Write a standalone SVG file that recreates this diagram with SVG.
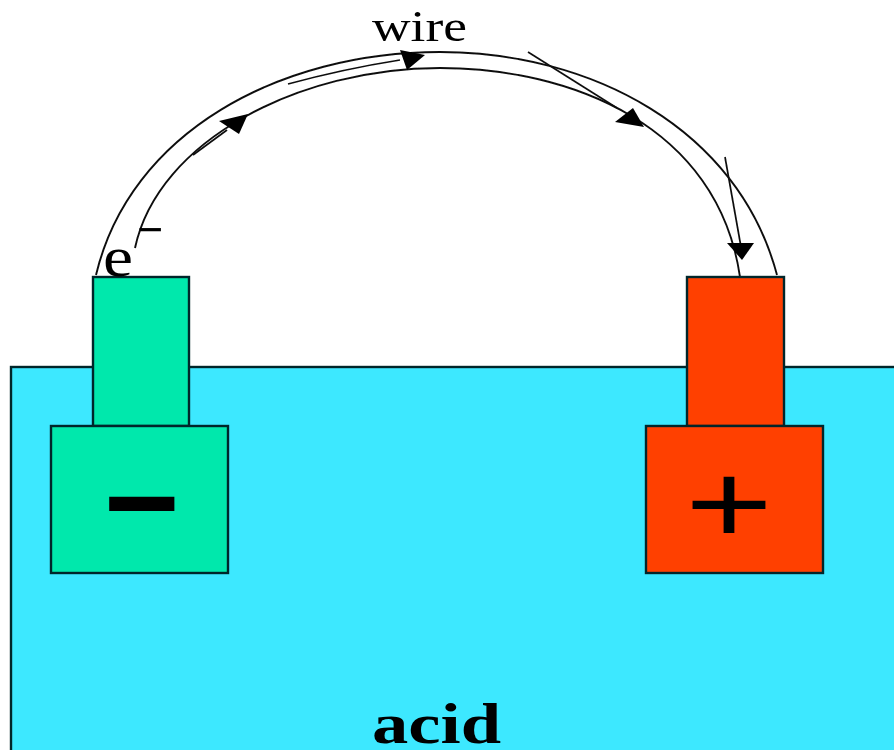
<svg xmlns="http://www.w3.org/2000/svg" width="894" height="750" viewBox="0 0 894 750">
<style>
.box{stroke:#06262a;stroke-width:2.4}
.green{fill:#00e8ac}
.red{fill:#ff4000}
.wire{fill:none;stroke:#111;stroke-width:1.9}
.ray{fill:none;stroke:#111;stroke-width:1.7}
.head{fill:#000;stroke:none}
.serif{font-family:"Liberation Serif","Times New Roman",serif;fill:#000}
.sans{font-family:"Liberation Sans",Arial,sans-serif;fill:#000;text-anchor:middle}
</style>
<defs><filter id="soft" x="0" y="0" width="100%" height="100%" filterUnits="userSpaceOnUse"><feGaussianBlur stdDeviation="0.5"/></filter></defs>
<rect width="894" height="750" fill="#fff"/>
<g filter="url(#soft)">
<g id="acid">
<rect class="box" x="11" y="367" width="890" height="390" fill="#3de8ff"/>
<text class="serif" x="372" y="743" font-size="58" font-weight="bold" textLength="129" lengthAdjust="spacingAndGlyphs">acid</text>
</g>
<g id="connectors">
<path class="wire" d="M96 275C130 132 280 52 440 52C590 52 738 128 777 275"/>
<path class="wire" d="M135 248C158 140 300 68 440 68C570 68 718 125 740 277"/>
<path class="ray" d="M288 84C325 74 362 66 400 60"/>
<path class="ray" d="M193 155L227 130"/>
<path class="ray" d="M528 52L617 108"/>
<path class="ray" d="M725 157L741 247"/>
<polygon class="head" points="400,50 425,55 407,70"/>
<polygon class="head" points="219,121 248,114 239,134"/>
<polygon class="head" points="615,122 633,108 644,127"/>
<polygon class="head" points="727,243 754,243 742,260"/>
</g>
<g id="negative-electrode">
<rect class="box green" x="93" y="277" width="96" height="149"/>
<rect class="box green" x="51" y="426" width="177" height="147"/>
<text class="sans" x="142" y="547" font-size="130" font-weight="bold">−</text>
</g>
<g id="electron">
<text class="serif" x="103" y="276" font-size="57" textLength="30" lengthAdjust="spacingAndGlyphs">e</text>
<text class="serif" x="137" y="245" font-size="46" font-weight="bold">−</text>
</g>
<g id="positive-electrode">
<rect class="box red" x="687" y="277" width="97" height="149"/>
<rect class="box red" x="646" y="426" width="177" height="147"/>
<text class="sans" transform="translate(729 542.5) scale(1 .77)" font-size="150">+</text>
</g>
<g id="wire-label">
<text class="serif" x="372" y="41" font-size="45" textLength="95" lengthAdjust="spacingAndGlyphs">wire</text>
</g>
</g>
</svg>
